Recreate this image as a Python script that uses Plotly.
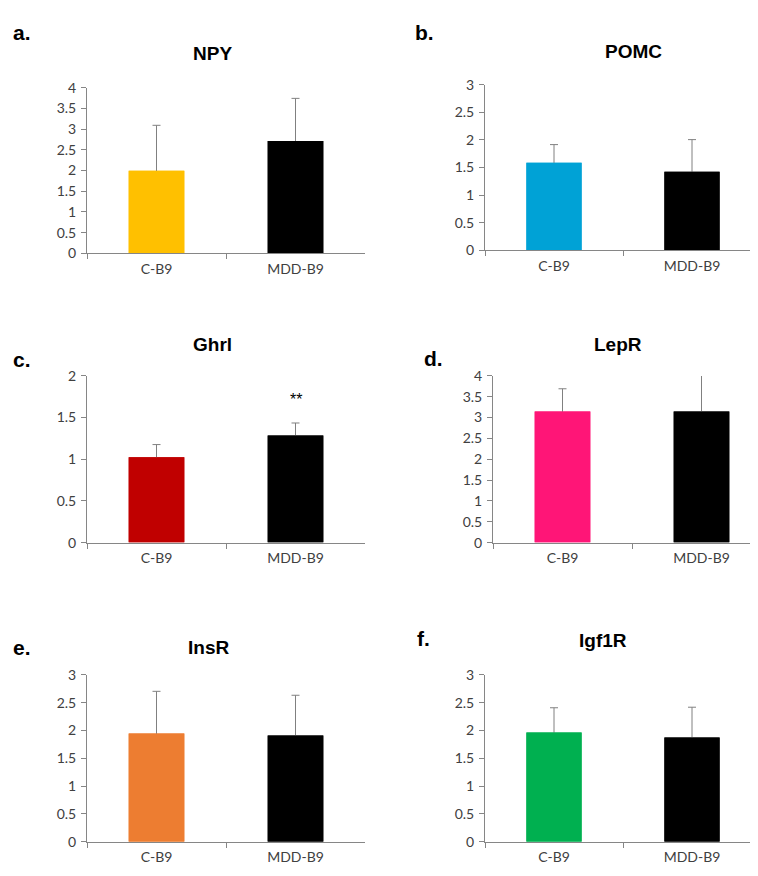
import plotly.graph_objects as go

W, H = 758, 876
OFF = 8  # page body margin in the browser

# ---- data ----
groups = ["C-B9", "MDD-B9"]
panel_letters = ["a.", "b.", "c.", "d.", "e.", "f."]
genes = ["NPY", "POMC", "Ghrl", "LepR", "InsR", "Igf1R"]
npy_mean = [1.99, 2.71]
npy_err = [1.10, 1.03]
pomc_mean = [1.585, 1.425]
pomc_err = [0.33, 0.58]
ghrl_mean = [1.024, 1.286]
ghrl_err = [0.152, 0.149]
lepr_mean = [3.146, 3.146]
lepr_err = [0.545, 0.95]
insr_mean = [1.946, 1.91]
insr_err = [0.76, 0.725]
igf1r_mean = [1.964, 1.876]
igf1r_err = [0.446, 0.544]
y_max = [4, 3, 2, 4, 3, 3]
significance = ["", "", "**", "", "", ""]
sig_y = [None, None, 1.72, None, None, None]
bar_colors = [
    ["#FFC000", "#000000"],
    ["#00A2D6", "#000000"],
    ["#C00000", "#000000"],
    ["#FF1577", "#000000"],
    ["#ED7D31", "#000000"],
    ["#00B050", "#000000"],
]

means = [npy_mean, pomc_mean, ghrl_mean, lepr_mean, insr_mean, igf1r_mean]
errs = [npy_err, pomc_err, ghrl_err, lepr_err, insr_err, igf1r_err]

# ---- layout geometry (screen pixels) ----
boxes = [
    (87, 80, 365, 249),
    (485, 77, 761, 246),
    (87, 374, 365, 544),
    (493, 374, 771, 544),
    (87, 679, 365, 849),
    (485, 679, 761, 849),
]
title_pos = [(212, 45), (633, 43), (212, 342), (618, 342), (208, 651), (603, 644)]
letter_pos = [(22, 24), (424, 24), (22, 357), (433, 356), (22, 651), (423, 642)]

def px(x):
    return (x - OFF) / W

def py(y):
    return 1 - (y - OFF) / H

fig = go.Figure()
axis_color = "#868686"
tick_font = dict(family="Lato, Open Sans, sans-serif", size=14, color="#404040")

for i in range(6):
    n = i + 1
    xa = "x" if n == 1 else f"x{n}"
    ya = "y" if n == 1 else f"y{n}"
    fig.add_trace(go.Bar(
        x=groups, y=means[i],
        marker=dict(color=bar_colors[i], line=dict(width=0)),
        width=0.4,
        error_y=dict(type="data", symmetric=True, array=errs[i],
                     color="#808080", thickness=1, width=4),
        xaxis=xa, yaxis=ya, showlegend=False, hoverinfo="skip",
    ))
    fig.add_trace(go.Bar(
        x=groups, y=means[i],
        marker=dict(color=bar_colors[i], line=dict(width=0)),
        width=0.4,
        xaxis=xa, yaxis=ya, showlegend=False,
    ))
    l, t, r, b = boxes[i]
    x0 = px(l)
    x1 = px(r)
    xr = 1.5
    if x1 > 1:
        # axis runs past the right edge: keep the same scale, cut at the edge
        xr = -0.5 + 2.0 * (1 - x0) / (x1 - x0)
        x1 = 1.0
    xkey = "xaxis" if n == 1 else f"xaxis{n}"
    ykey = "yaxis" if n == 1 else f"yaxis{n}"
    fig.layout[xkey] = dict(
        domain=[x0, x1], anchor=ya, type="category",
        range=[-0.5, xr], showline=True, linecolor=axis_color, linewidth=1,
        ticks="outside", tickson="boundaries", ticklen=5, tickcolor=axis_color,
        showgrid=False, zeroline=False, tickfont=tick_font, fixedrange=True,
        ticklabelstandoff=3,
    )
    fig.layout[ykey] = dict(
        domain=[py(b), py(t)], anchor=xa, range=[0, y_max[i]], dtick=0.5,
        showline=True, linecolor=axis_color, linewidth=1,
        ticks="outside", ticklen=5, tickcolor=axis_color,
        showgrid=False, zeroline=False, tickfont=tick_font, fixedrange=True,
        ticklabelstandoff=2,
    )
    tx, ty = title_pos[i]
    fig.add_annotation(x=px(tx), y=py(ty), xref="paper", yref="paper",
                       text=f"<b>{genes[i]}</b>", showarrow=False,
                       font=dict(family="Liberation Sans, Arial", size=19, color="#000000"),
                       xanchor="center", yanchor="middle")
    lx, ly = letter_pos[i]
    fig.add_annotation(x=px(lx), y=py(ly), xref="paper", yref="paper",
                       text=f"<b>{panel_letters[i]}</b>", showarrow=False,
                       font=dict(family="Liberation Sans, Arial", size=21, color="#000000"),
                       xanchor="center", yanchor="middle")
    if significance[i]:
        fig.add_annotation(x=groups[1], y=sig_y[i], xref=xa, yref=ya,
                           text=significance[i], showarrow=False,
                           font=dict(family="Liberation Sans, Arial", size=16, color="#000000"),
                           yanchor="middle")

fig.update_layout(
    width=W, height=H, margin=dict(l=0, r=0, t=0, b=0),
    paper_bgcolor="white", plot_bgcolor="white", barmode="overlay",
)

fig.write_html("out.html")
